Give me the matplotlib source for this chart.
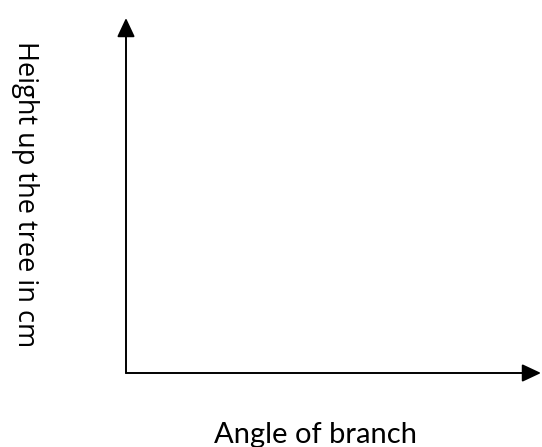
import matplotlib
matplotlib.use("Agg")
import matplotlib.pyplot as plt

x_label = "Angle of branch"
y_label = "Height up the tree in cm"

W, H = 542, 447
fig = plt.figure(figsize=(W / 100, H / 100), dpi=100)
fig.patch.set_facecolor("white")

left, right = 126 / W, 541 / W
bottom, top = (H - 373) / H, (H - 18) / H
ax = fig.add_axes([left, bottom, right - left, top - bottom])
ax.set_axis_off()
ax.set_xlim(0, 1)
ax.set_ylim(0, 1)

style = "-|>,head_length=0.575,head_width=0.27"
for xy in [(1, 0), (0, 1)]:
    ax.annotate("", xy=xy, xytext=(0, 0), xycoords="axes fraction",
                textcoords="axes fraction",
                arrowprops=dict(arrowstyle=style, mutation_scale=20, lw=1.4,
                                color="black", shrinkA=0, shrinkB=0),
                annotation_clip=False)

fig.text(315 / W, (H - 443) / H, x_label, ha="center", va="baseline",
         fontsize=21, family="Lato", color="black")
fig.text(25 / W, 1 - 194 / H, y_label, ha="center", va="center",
         rotation=-90, fontsize=19.5, family="Open Sans", color="black")

fig.savefig("out.png", dpi=100, facecolor="white")
